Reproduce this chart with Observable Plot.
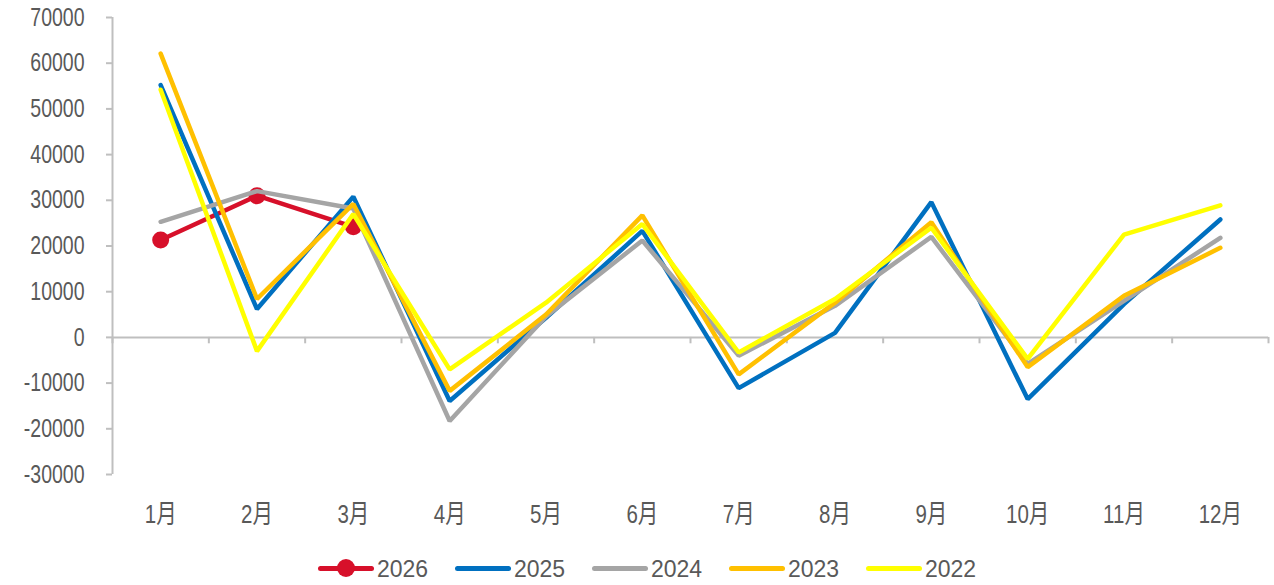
<!DOCTYPE html>
<html>
<head>
<meta charset="utf-8">
<script src="https://cdn.jsdelivr.net/npm/d3@7"></script>
<script src="https://cdn.jsdelivr.net/npm/@observablehq/plot@0.6"></script>
<style>
  html, body { margin: 0; padding: 0; background: #fff; }
  #wrap { position: relative; width: 1274px; height: 585px; font-family: "Liberation Sans", Arial, "Noto Sans CJK SC", sans-serif; }
  #legend { position: absolute; left: 318px; top: 553px; height: 30px; display: flex; gap: 0; font-size: 23px; color: #595959; }
  .item { display: flex; align-items: center; width: 137px; height: 30px; }
  .item span { display: inline-block; transform: scaleY(1.08); line-height: 30px; }
  .sw { position: relative; width: 56px; height: 5px; border-radius: 2.5px; margin-right: 3px; }
  .sw .dot { position: absolute; left: 19px; top: -6.5px; width: 18px; height: 18px; border-radius: 50%; }
</style>
</head>
<body>
<div id="wrap">
  <div id="chart"></div>
  <div id="legend"></div>
</div>
<script>
const months = [1,2,3,4,5,6,7,8,9,10,11,12];
const monthLabels = ["1月","2月","3月","4月","5月","6月","7月","8月","9月","10月","11月","12月"];
const yTicks = [-30000,-20000,-10000,0,10000,20000,30000,40000,50000,60000,70000];

const s2026 = [21300, 31000, 24200];
const s2025 = [55200, 6200, 30800, -13900, 4300, 23300, -11100, 1000, 29600, -13500, 7300, 25800];
const s2024 = [25300, 32000, 28200, -18300, 4600, 21200, -4000, 6900, 22000, -5800, 8000, 21800];
const s2023 = [62100, 8400, 29200, -11700, 5000, 26700, -8100, 7600, 25200, -6500, 9100, 19600];
const s2022 = [54200, -3000, 27000, -7000, 7600, 24800, -3300, 8400, 24000, -4700, 22500, 28900];

const seriesNames = ["2026","2025","2024","2023","2022"];
const seriesColors = ["#D7102A","#0070C0","#A5A5A5","#FFC000","#FFFF00"];
const seriesValues = [s2026, s2025, s2024, s2023, s2022];

const rows = [];
seriesNames.forEach((name, idx) => {
  seriesValues[idx].forEach((v, i) => rows.push({series: name, month: months[i], value: v}));
});
const r2026 = rows.filter(d => d.series === "2026");
const rOthers = rows.filter(d => d.series !== "2026");
const boundaries = d3.range(0.5, 13, 1);

const chart = Plot.plot({
  width: 1274,
  height: 545,
  marginLeft: 112,
  marginRight: 6,
  marginTop: 17,
  marginBottom: 71,
  style: {fontFamily: '"Liberation Sans", Arial, "Noto Sans CJK SC", sans-serif', fontSize: "19.5px", color: "#595959", background: "#fff"},
  x: {domain: [0.5, 12.5]},
  y: {domain: [-30000, 70000]},
  color: {domain: seriesNames, range: seriesColors},
  marks: [
    Plot.ruleY([0], {stroke: "#BFBFBF", strokeWidth: 2}),
    Plot.ruleX(boundaries, {x: d => d, y1: 0, y2: -1400, stroke: "#BFBFBF", strokeWidth: 2}),
    Plot.ruleX([0.5], {y1: -30000, y2: 70000, stroke: "#BFBFBF", strokeWidth: 2}),
    Plot.axisY({ticks: yTicks, tickSize: 6, tickPadding: 22, stroke: "#BFBFBF", strokeWidth: 2, fill: "#595959", fontSize: 19.5, label: null, tickFormat: d => String(d)}),
    Plot.axisX({ticks: months, tickSize: 0, tickPadding: 30, tickFormat: d => monthLabels[d - 1], fill: "#595959", fontSize: 20.5, label: null}),
    Plot.line(r2026, {x: "month", y: "value", stroke: "series", strokeWidth: 4.5, strokeLinejoin: "miter", strokeLinecap: "round"}),
    Plot.dot(r2026, {x: "month", y: "value", r: 8.5, fill: "#D7102A", stroke: "none"}),
    Plot.line(rOthers, {x: "month", y: "value", z: "series", stroke: "series", strokeWidth: 4.5, strokeLinejoin: "miter", strokeLinecap: "round"})
  ]
});
// vertically stretch axis tick labels to match the reference's tall glyphs
chart.querySelectorAll("g[aria-label$='tick label'] text").forEach(t => {
  const tr = t.getAttribute("transform");
  if (tr) {
    t.setAttribute("transform", tr + " scale(1,1.3)");
  } else {
    const x = +t.getAttribute("x") || 0, y = +t.getAttribute("y") || 0;
    t.removeAttribute("x"); t.removeAttribute("y");
    t.setAttribute("transform", `translate(${x},${y}) scale(1,1.3)`);
  }
});
document.getElementById("chart").appendChild(chart);

const legend = document.getElementById("legend");
seriesNames.forEach((name, i) => {
  const item = document.createElement("div");
  item.className = "item";
  const sw = document.createElement("div");
  sw.className = "sw";
  sw.style.background = seriesColors[i];
  if (name === "2026") {
    const dot = document.createElement("div");
    dot.className = "dot";
    dot.style.background = seriesColors[i];
    sw.appendChild(dot);
  }
  const t = document.createElement("span");
  t.textContent = name;
  item.appendChild(sw);
  item.appendChild(t);
  legend.appendChild(item);
});
</script>
</body>
</html>
